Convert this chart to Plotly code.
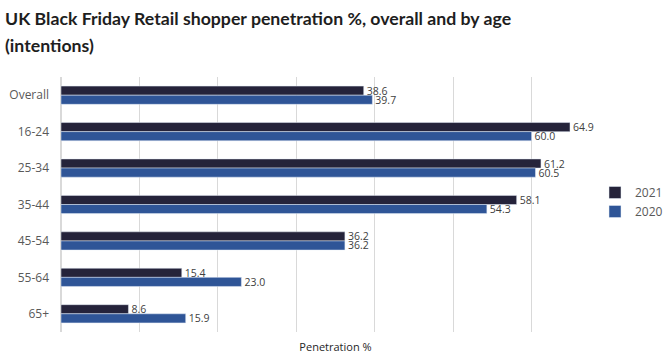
import plotly.graph_objects as go

categories = ["Overall", "16-24", "25-34", "35-44", "45-54", "55-64", "65+"]
values_2021 = [38.6, 64.9, 61.2, 58.1, 36.2, 15.4, 8.6]
values_2020 = [39.7, 60.0, 60.5, 54.3, 36.2, 23.0, 15.9]
title_lines = ["UK Black Friday Retail shopper penetration %, overall and by age", "(intentions)"]

FONT = "Open Sans"
TITLE_FONT = "Lato"

W, H = 666, 357
ML, MR, MT, MB = 61, 56, 77, 25
PW, PH = W - ML - MR, H - MT - MB


def px_x(x):
    return (x - ML) / PW


def px_y(y):
    return (H - MB - y) / PH


fig = go.Figure()
fig.add_trace(go.Bar(
    y=categories, x=values_2021, orientation="h", name="2021",
    marker=dict(color="#25233a"),
    text=[f"{v:.1f}" for v in values_2021], textposition="outside", constraintext="none",
    textfont=dict(color="#404040", size=10.5, family=FONT), cliponaxis=False,
))
fig.add_trace(go.Bar(
    y=categories, x=values_2020, orientation="h", name="2020",
    marker=dict(color="#2f5597"),
    text=[f"{v:.1f}" for v in values_2020], textposition="outside", constraintext="none",
    textfont=dict(color="#404040", size=10.5, family=FONT), cliponaxis=False,
))

for i, (line, yc) in enumerate(zip(title_lines, [18.5, 45])):
    fig.add_annotation(
        text=f"<b>{line}</b>", xref="paper", yref="paper",
        x=px_x(3), xanchor="left", y=px_y(yc), yanchor="middle",
        showarrow=False, font=dict(family=TITLE_FONT, size=17.7, color="#1e1e1e"),
    )

fig.update_layout(
    width=W, height=H,
    paper_bgcolor="white", plot_bgcolor="white",
    barmode="group", bargap=0.5, bargroupgap=0,
    margin=dict(l=ML, r=MR, t=MT, b=MB, autoexpand=False),
    font=dict(family=FONT, color="#595959", size=11),
    showlegend=True,
    legend=dict(
        x=px_x(595), xanchor="left", y=px_y(202), yanchor="middle",
        font=dict(size=12, color="#595959", family=FONT),
        itemwidth=30, tracegroupgap=4, bgcolor="rgba(0,0,0,0)",
    ),
    xaxis=dict(
        range=[0, 70], dtick=10, showgrid=True, gridcolor="#d9d9d9", gridwidth=1,
        showticklabels=False, zeroline=True, zerolinecolor="#d9d9d9",
        showline=False, ticks="", automargin=False,
        title=dict(text="Penetration %", font=dict(size=11, color="#262626", family=FONT), standoff=11),
    ),
    yaxis=dict(
        autorange="reversed", showgrid=False, ticks="", showline=False, automargin=False,
        tickfont=dict(size=12, color="#595959", family=FONT), ticklabelstandoff=11,
    ),
)

fig.write_html("out.html", config={"displayModeBar": False},
               post_script="document.body.style.margin='0';")
